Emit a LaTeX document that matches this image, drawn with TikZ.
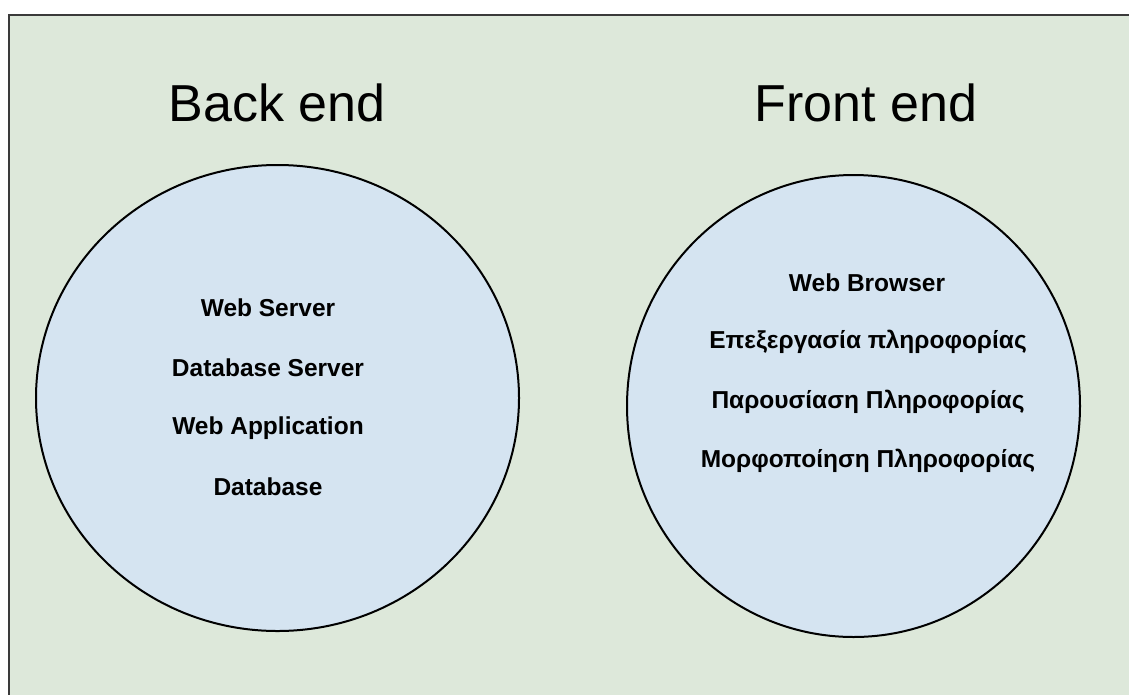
\documentclass[tikz,border=0pt]{standalone}
\usepackage{fontspec}
\setmainfont{Liberation Sans}
\definecolor{panelfill}{HTML}{DDE8DA}
\definecolor{circfill}{HTML}{D5E4F1}
\definecolor{panelline}{HTML}{3A3A3A}
\begin{document}
\begin{tikzpicture}[x=1pt,y=-1pt,
  panel/.style={draw=panelline,line width=2pt,fill=panelfill},
  bubble/.style={draw=black,line width=2pt,fill=circfill},
  title/.style={font=\fontsize{52}{60}\selectfont,anchor=center},
  item/.style={font=\bfseries\fontsize{24.5}{29}\selectfont,anchor=center}]
\useasboundingbox (0,0) rectangle (1129,694);
\clip (0,0) rectangle (1129,694);
\draw[panel] (9,15) rectangle (1150,720);
\draw[bubble] (277.5,398) ellipse [x radius=241.5, y radius=233];
\draw[bubble] (853.5,406) ellipse [x radius=226.5, y radius=231];
\node[title] (back) at (277,103) {Back end};
\node[title] (front) at (866,103) {Front end};
\node[item] (b1) at (268,308) {Web Server};
\node[item] (b2) at (268,368) {Database Server};
\node[item] (b3) at (268,428) {Web Application};
\node[item] (b4) at (268,487) {Database};
\node[item] (f1) at (867,283) {Web Browser};
\node[item] (f2) at (868,342) {Επεξεργασία πληροφορίας};
\node[item] (f3) at (868,402) {Παρουσίαση Πληροφορίας};
\node[item] (f4) at (868,461) {Μορφοποίηση Πληροφορίας};
\end{tikzpicture}
\end{document}
